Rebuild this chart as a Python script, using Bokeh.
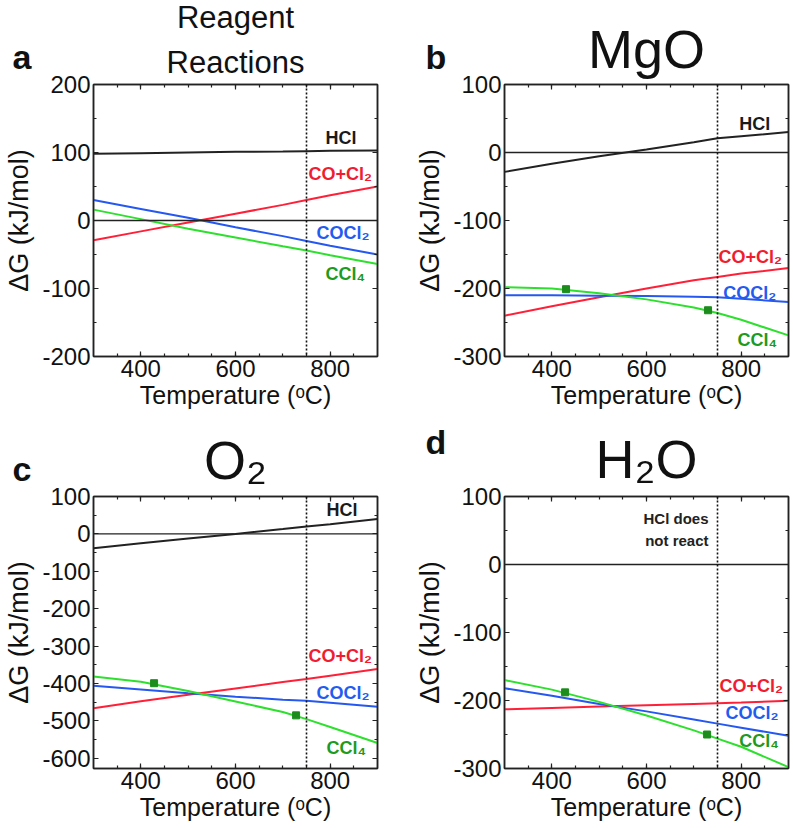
from bokeh.plotting import figure
from bokeh.models import Range1d, FixedTicker, LinearAxis, Span, ColumnDataSource
from bokeh.layouts import row, column
from bokeh.embed import file_html
from bokeh.resources import INLINE
from bokeh.core.properties import value

FONT = "Liberation Sans"

# ---------------- data ----------------
T = [300, 400, 500, 600, 700, 750, 800, 900]

# (a) Reagent reactions
a_hcl = [98, 99, 100, 101, 101.5, 102, 102.5, 103]
a_cocl2mix = [-29, -16, -3, 10, 23, 30, 37, 50]
a_cocl2 = [30, 17, 4, -10, -23, -30, -37, -50]
a_ccl4 = [16, 2, -12, -25, -38, -44, -51, -64]

# (b) MgO
b_hcl = [-28.5, -16.5, -5.5, 4.5, 15, 21, 24, 30]
b_cocl2mix = [-240, -226, -213, -200, -188, -183, -178, -170]
b_cocl2 = [-210, -210, -210.5, -211, -212, -213, -215, -220]
b_ccl4 = [-198, -200, -207, -216, -228, -236, -246, -269]
b_mark_t = [430, 730]
b_mark_g = [-201, -232]

# (c) O2
c_hcl = [-38, -25, -12, 0, 13, 20, 26, 40]
c_cocl2mix = [-466, -447, -430, -413, -396, -388, -379, -361]
c_cocl2 = [-406, -416, -426, -435, -443, -446, -451, -462]
c_ccl4 = [-381, -395, -420, -448, -476, -495, -516, -559]
c_mark_t = [428, 728]
c_mark_g = [-399, -485]

# (d) H2O
d_cocl2mix = [-213, -211, -209, -207, -205, -204, -203, -200.5]
d_cocl2 = [-182, -193, -205, -216, -228, -234, -240, -252]
d_ccl4 = [-170, -184, -202, -222, -244, -256, -268, -298]
d_mark_t = [428, 728]
d_mark_g = [-188, -250]

x_major = [400, 600, 800]
x_minor = [350, 400, 450, 500, 550, 600, 650, 700, 750, 800, 850]
y_ticks_a = [-200, -100, 0, 100, 200]
y_minor_a = [-150, -50, 50, 150]
y_ticks_bd = [-300, -200, -100, 0, 100]
y_minor_bd = [-250, -150, -50, 50]
y_ticks_c = [-600, -500, -400, -300, -200, -100, 0, 100]
y_minor_c = [-550, -450, -350, -250, -150, -50, 50]

T_REF = 750  # dotted reference temperature

C_RED, C_BLUE, C_GREEN, C_BLACK = "#ff2038", "#2558f0", "#2ee02e", "#222222"
T_RED, T_BLUE, T_GREEN, T_BLACK = "#f01c30", "#1f5cf0", "#1e9a1e", "#1a1a1a"
C_MARK = "#1c8c1c"

OVERLAP = 14  # px the plot canvas slides up under its heading strip


def style_axis(ax, ticker, labels=True):
    ax.ticker = ticker
    ax.axis_line_color = C_BLACK
    ax.axis_line_width = 1.5
    ax.major_tick_in = 5
    ax.major_tick_out = 0
    ax.minor_tick_in = 3
    ax.minor_tick_out = 0
    ax.major_tick_line_color = C_BLACK
    ax.minor_tick_line_color = C_BLACK
    ax.major_tick_line_width = 1.2
    ax.minor_tick_line_width = 1.2
    if labels:
        ax.major_label_text_font = FONT
        ax.major_label_text_font_size = "24px"
        ax.major_label_text_color = "#111111"
        ax.major_label_standoff = 3
        ax.axis_label_text_font = FONT
        ax.axis_label_text_font_style = "normal"
        ax.axis_label_text_color = "#111111"
    else:
        ax.major_label_text_font_size = "1px"
        ax.major_label_text_color = None
        ax.major_label_standoff = 0


def make_panel(width, height, mbl, mbr, mbb, y0, y1, yt, ym):
    p = figure(width=width, height=height, x_range=Range1d(300, 900),
               y_range=Range1d(y0, y1), output_backend="svg",
               toolbar_location=None, min_border_left=mbl, min_border_right=mbr,
               min_border_top=OVERLAP, min_border_bottom=mbb,
               margin=(-OVERLAP, 0, 0, 0))
    p.border_fill_color = None
    p.background_fill_color = "white"
    p.grid.visible = False
    p.outline_line_color = C_BLACK
    p.outline_line_width = 1.5
    style_axis(p.xaxis[0], FixedTicker(ticks=x_major, minor_ticks=x_minor))
    style_axis(p.yaxis[0], FixedTicker(ticks=yt, minor_ticks=ym))
    p.yaxis[0].major_label_overrides = {t: str(t) for t in yt}
    p.xaxis.axis_label = "Temperature (ᵒC)"
    p.xaxis.axis_label_text_font_size = "25px"
    p.xaxis.axis_label_standoff = 1
    p.yaxis.axis_label = "ΔG (kJ/mol)"
    p.yaxis.axis_label_text_font_size = "27px"
    p.yaxis.axis_label_standoff = 5
    top = LinearAxis()
    style_axis(top, FixedTicker(ticks=x_major, minor_ticks=x_minor), labels=False)
    p.add_layout(top, "above")
    right = LinearAxis()
    style_axis(right, FixedTicker(ticks=yt, minor_ticks=ym), labels=False)
    p.add_layout(right, "right")
    p.add_layout(Span(location=0, dimension="width", line_color=C_BLACK, line_width=1.3))
    p.add_layout(Span(location=T_REF, dimension="height", line_color="#111111",
                      line_width=1.6, line_dash="2 2"))
    return p


def add_series(p, hcl, mix, cocl2, ccl4, mt=None, mg=None):
    if hcl is not None:
        p.line(T, hcl, line_color=C_BLACK, line_width=2)
    p.line(T, mix, line_color=C_RED, line_width=2)
    p.line(T, cocl2, line_color=C_BLUE, line_width=2)
    p.line(T, ccl4, line_color=C_GREEN, line_width=2)
    if mt is not None:
        p.scatter(mt, mg, marker="square", size=7, fill_color=C_MARK, line_color=C_MARK)


def add_labels(p, xs, ys, texts, colors, size="18px"):
    src = ColumnDataSource(dict(x=xs, y=ys, text=texts, color=colors))
    p.text(x="x", y="y", text="text", text_color="color", source=src,
           text_font=value(FONT), text_font_style="bold", text_font_size=size,
           text_baseline="middle", text_align="left")


def make_header(width, height, letter, lx, ly, titles):
    """Heading strip above a panel: bold panel letter and the panel title."""
    h = figure(width=width, height=height, x_range=Range1d(0, width),
               y_range=Range1d(height, 0), output_backend="svg",
               toolbar_location=None, x_axis_location=None, y_axis_location=None,
               min_border=0)
    try:
        h.frame_align = False
    except AttributeError:
        pass
    h.grid.visible = False
    h.outline_line_color = None
    h.text(x=[lx], y=[ly], text=[letter], text_font=value(FONT),
           text_font_style="bold", text_font_size="34px", text_color="#111111",
           text_baseline="middle", text_align="left")
    for txt, tx, ty, fs in titles:
        h.text(x=[tx], y=[ty], text=[txt], text_font=value(FONT),
               text_font_size=fs, text_color="#111111",
               text_baseline="middle", text_align="center")
    return h


NAMES = ["HCl", "CO+Cl₂", "COCl₂", "CCl₄"]
TCOLS = [T_BLACK, T_RED, T_BLUE, T_GREEN]

WL, WR = 400, 392

# panel a
ha = make_header(WL, 84, "a", 12, 56, [("Reagent", 235, 17, "31px"),
                                       ("Reactions", 235, 62, "31px")])
pa = make_panel(WL, 348, 93, 23, 62, -200, 200, y_ticks_a, y_minor_a)
add_series(pa, a_hcl, a_cocl2mix, a_cocl2, a_ccl4)
add_labels(pa, [790, 754, 771, 790], [122, 68, -19, -78], NAMES, TCOLS)

# panel b
hb = make_header(WR, 84, "b", 25, 56, [("MgO", 246, 48, "54px")])
pb = make_panel(WR, 348, 104, 4, 62, -300, 100, y_ticks_bd, y_minor_bd)
add_series(pb, b_hcl, b_cocl2mix, b_cocl2, b_ccl4, b_mark_t, b_mark_g)
add_labels(pb, [796, 752, 762, 792], [42, -154, -207, -276], NAMES, TCOLS)

# panel c
hc = make_header(WL, 78, "c", 12, 50, [("O₂", 235, 41, "54px")])
pc = make_panel(WL, 346, 93, 23, 60, -627, 100, y_ticks_c, y_minor_c)
add_series(pc, c_hcl, c_cocl2mix, c_cocl2, c_ccl4, c_mark_t, c_mark_g)
add_labels(pc, [792, 754, 771, 792], [65, -325, -424, -573], NAMES, TCOLS)

# panel d
hd = make_header(WR, 78, "d", 25, 23, [("H₂O", 246, 40, "54px")])
pd_ = make_panel(WR, 346, 104, 4, 60, -300, 100, y_ticks_bd, y_minor_bd)
add_series(pd_, None, d_cocl2mix, d_cocl2, d_ccl4, d_mark_t, d_mark_g)
add_labels(pd_, [754, 767, 796], [-179, -219, -259], NAMES[1:], TCOLS[1:])
src_note = ColumnDataSource(dict(x=[731, 731], y=[67, 36], text=["HCl does", "not react"]))
pd_.text(x="x", y="y", text="text", source=src_note, text_color="#222222",
         text_font=value(FONT), text_font_style="bold", text_font_size="15px",
         text_baseline="middle", text_align="right")

layout = column(row(column(ha, pa), column(hb, pb)),
                row(column(hc, pc), column(hd, pd_)))
open("out.html", "w").write(file_html(layout, INLINE))
